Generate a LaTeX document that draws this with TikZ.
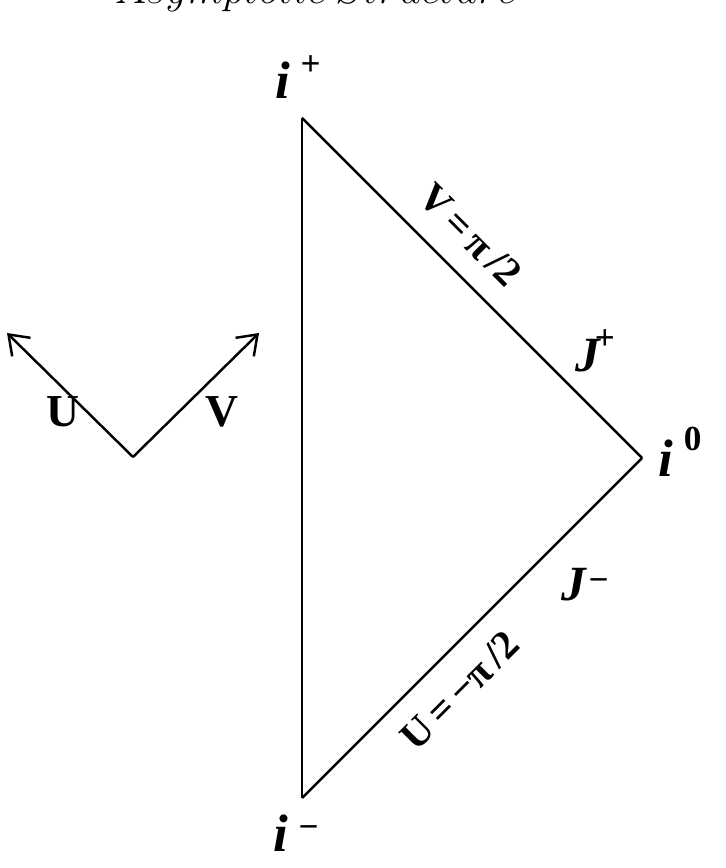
\documentclass[tikz,border=0pt]{standalone}
\usepackage{fontspec}
\setmainfont{Liberation Serif}
\usetikzlibrary{arrows.meta}
\newcommand{\supmark}[2][0.45em]{\hspace{0.2em}\raisebox{#1}{\fontsize{10}{10}\selectfont\upshape #2}}
\tikzset{
  axlabel/.style={font=\fontsize{13}{15}\selectfont\bfseries, inner sep=0pt},
  ptlabel/.style={font=\fontsize{15}{18}\selectfont\bfseries\itshape, inner sep=0pt},
  scrilabel/.style={font=\fontsize{14}{16}\selectfont\bfseries\itshape, inner sep=0pt},
  edgelabel/.style={font=\fontsize{11.5}{14}\selectfont\bfseries, sloped, inner sep=0pt},
  barb/.style={-{Straight Barb[length=1.8mm,width=2.6mm]}},
}
\begin{document}
\begin{tikzpicture}[x=0.01cm, y=-0.01cm, line width=0.7pt]
\useasboundingbox (0,0) rectangle (725,868);
\clip (0,0) rectangle (725,868);
\node [anchor=base west, inner sep=0pt, font=\fontsize{11.5}{13}\selectfont] (title) at (114,4) {$Asymptotic\ Structure$};
% the triangle
\coordinate (top) at (302,118);
\coordinate (bot) at (302,798);
\coordinate (right) at (642,458);
\draw (top) -- (bot);
\draw (top) -- node [edgelabel, above=6pt, pos=0.42] {V\,=\,π\,/2} (right);
\draw (bot) -- node [edgelabel, below=6pt, pos=0.39] {U\,=\,−π\,/2} (right);
\node [ptlabel] (iplus) at (298,77) {i\supmark{+}};
\node [ptlabel] (izero) at (680,452) {i\supmark[0.5em]{\bfseries 0}};
\node [ptlabel] (iminus) at (296,833) {i\supmark[0.25em]{−}};
\node [scrilabel] (jplus) at (595,351) {J\hspace{-0.1em}\raisebox{0.45em}{\fontsize{10}{10}\selectfont\upshape +}};
\node [scrilabel] (jminus) at (585,585) {J\hspace{0.05em}\raisebox{0.2em}{\fontsize{10}{10}\selectfont\upshape −}};
% null directions
\coordinate (uvo) at (133,457);
\coordinate (utip) at (7,333);
\coordinate (vtip) at (259,333);
\draw [barb] (uvo) -- (utip);
\draw [barb] (uvo) -- (vtip);
\node [axlabel] (ulab) at (63,412) {U};
\node [axlabel] (vlab) at (222,412) {V};
\end{tikzpicture}
\end{document}
